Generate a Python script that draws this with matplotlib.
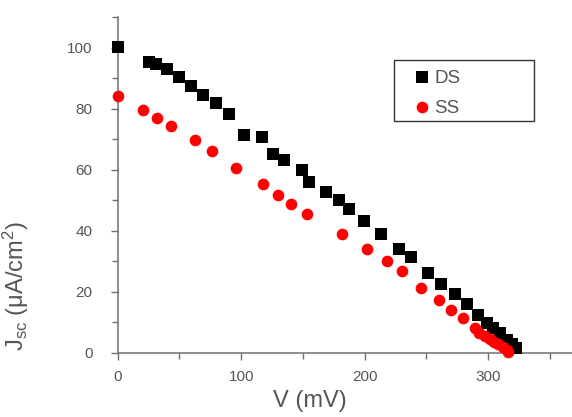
import matplotlib
matplotlib.use('Agg')
import matplotlib.pyplot as plt
from matplotlib.patches import Rectangle
from matplotlib.ticker import MultipleLocator

plt.rcParams['font.family'] = ['Liberation Sans', 'DejaVu Sans']
plt.rcParams['mathtext.fontset'] = 'custom'
plt.rcParams['mathtext.rm'] = 'Liberation Sans'
plt.rcParams['mathtext.it'] = 'Liberation Sans'

# DS series: voltage (mV) and Jsc (uA/cm2)
ds_v = [0, 25.6, 31, 39.7, 49.4, 59, 69.3, 80, 90.4, 102.5, 116.8, 125.5, 135, 149, 155,
        169, 179, 187.5, 199.4, 213, 227.5, 237.2, 251.3, 262, 273, 282.6, 292, 298.8,
        304, 309.5, 315, 319, 323]
ds_j = [100.1, 95.2, 94.7, 93.0, 90.5, 87.4, 84.6, 82, 78.1, 71.2, 70.7, 65, 63.1, 59.8, 56,
        52.7, 50, 47, 43.2, 38.9, 33.9, 31.3, 26.2, 22.5, 19.3, 16.2, 12.4, 9.9,
        8.1, 6.4, 4.2, 2.9, 1.5]

# SS series
ss_v = [0, 20.7, 31.6, 43, 62.8, 76, 95.8, 117.4, 129.5, 140, 153.5, 181.4, 201.6, 217.8,
        230, 245.3, 260, 270, 280, 289, 293, 297.5, 301.5, 304.7, 308, 311.7, 315, 316.3]
ss_j = [84, 79.6, 76.9, 74.2, 69.8, 66.1, 60.7, 55.2, 51.6, 48.9, 45.6, 39.1, 33.9, 30.1,
        26.8, 21.3, 17.3, 14, 11.3, 8.1, 6.6, 5.6, 4.5, 3.7, 2.8, 1.9, 1.0, 0.4]

x_ticks = [0, 100, 200, 300]
y_ticks = [0, 20, 40, 60, 80, 100]

fig = plt.figure(figsize=(5.72, 4.17), dpi=100)
ax = fig.add_axes([0.2058, 0.1535, 0.7943, 0.8058])

ax.plot(ds_v, ds_j, 's', color='black', markersize=8.4, markeredgewidth=0,
        label='DS', clip_on=False, zorder=3)
ax.plot(ss_v, ss_j, 'o', color='red', markersize=8.4, markeredgewidth=0,
        label='SS', clip_on=False, zorder=4)

ax.set_xlim(0, 368)
ax.set_ylim(0, 110)
ax.set_xticks(x_ticks)
ax.set_yticks(y_ticks)
ax.xaxis.set_minor_locator(MultipleLocator(50))
ax.yaxis.set_minor_locator(MultipleLocator(10))

grey = '#555555'
for side in ['top', 'right']:
    ax.spines[side].set_visible(False)
for side in ['left', 'bottom']:
    ax.spines[side].set_color('#707070')
    ax.spines[side].set_linewidth(1.1)

ax.tick_params(which='both', direction='out', colors='#707070', labelcolor=grey, width=1.0)
ax.tick_params(which='major', length=5, labelsize=11)
ax.tick_params(which='minor', length=4)
ax.tick_params(axis='y', pad=13)
ax.tick_params(axis='x', pad=7)

ax.set_xlabel('V (mV)', fontsize=17, color=grey)
ax.xaxis.set_label_coords(0.423, -0.11)
ax.set_ylabel('J$_{\\rm sc}$ (μA/cm$^{2}$)', fontsize=17, color=grey)
ax.yaxis.set_label_coords(-0.19, 0.20)

# legend: frame drawn separately so the box can be wider than its content
leg = ax.legend(loc='upper left', bbox_to_anchor=(0.650, 0.842), frameon=False,
                fontsize=13.5, handlelength=1.0, handletextpad=0.15,
                labelspacing=0.7, borderpad=0, borderaxespad=0)
for t in leg.get_texts():
    t.set_color(grey)
ax.add_patch(Rectangle((0.608, 0.690), 0.309, 0.182, transform=ax.transAxes,
                       fill=False, edgecolor='#333333', linewidth=1.0))

plt.savefig('out.png', dpi=100)
plt.close()
